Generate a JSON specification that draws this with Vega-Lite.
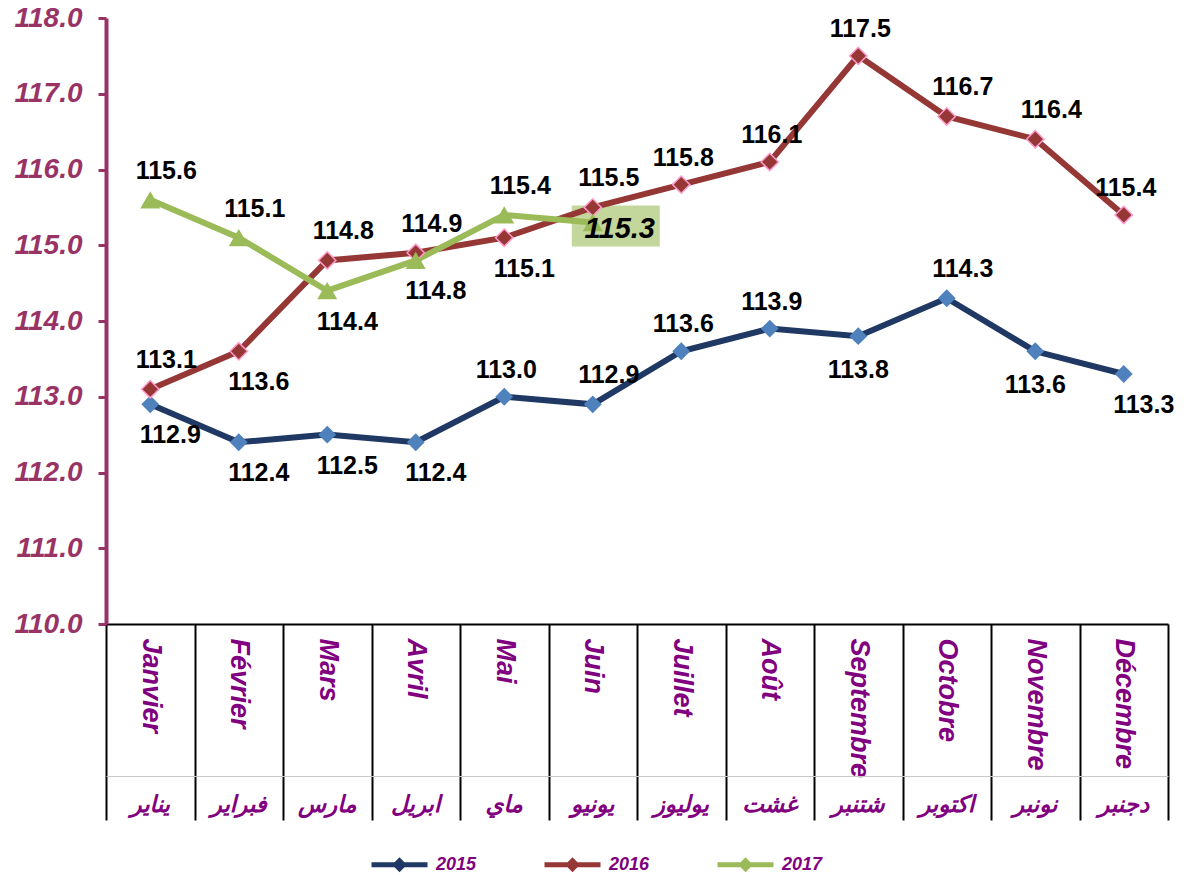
{
  "$schema": "https://vega.github.io/schema/vega-lite/v6.json",
  "width": 1062,
  "height": 606,
  "autosize": {"type": "none"},
  "padding": {"left": 106, "top": 18, "right": 21, "bottom": 251},
  "background": "white",
  "config": {"view": {"stroke": null}, "font": "Liberation Sans"},
  "datasets": {
    "pts": [
      {"month": "Janvier", "series": "2015", "value": 112.9, "pos": "br"},
      {"month": "Février", "series": "2015", "value": 112.4, "pos": "br"},
      {"month": "Mars", "series": "2015", "value": 112.5, "pos": "br"},
      {"month": "Avril", "series": "2015", "value": 112.4, "pos": "br"},
      {"month": "Mai", "series": "2015", "value": 113.0, "pos": "a"},
      {"month": "Juin", "series": "2015", "value": 112.9, "pos": "ar"},
      {"month": "Juillet", "series": "2015", "value": 113.6, "pos": "a"},
      {"month": "Août", "series": "2015", "value": 113.9, "pos": "a"},
      {"month": "Septembre", "series": "2015", "value": 113.8, "pos": "b"},
      {"month": "Octobre", "series": "2015", "value": 114.3, "pos": "ar"},
      {"month": "Novembre", "series": "2015", "value": 113.6, "pos": "b"},
      {"month": "Décembre", "series": "2015", "value": 113.3, "pos": "br"},
      {"month": "Janvier", "series": "2016", "value": 113.1, "pos": "ar"},
      {"month": "Février", "series": "2016", "value": 113.6, "pos": "br"},
      {"month": "Mars", "series": "2016", "value": 114.8, "pos": "ar"},
      {"month": "Avril", "series": "2016", "value": 114.9, "pos": "ar"},
      {"month": "Mai", "series": "2016", "value": 115.1, "pos": "br"},
      {"month": "Juin", "series": "2016", "value": 115.5, "pos": "ar"},
      {"month": "Juillet", "series": "2016", "value": 115.8, "pos": "a"},
      {"month": "Août", "series": "2016", "value": 116.1, "pos": "a"},
      {"month": "Septembre", "series": "2016", "value": 117.5, "pos": "a"},
      {"month": "Octobre", "series": "2016", "value": 116.7, "pos": "ar"},
      {"month": "Novembre", "series": "2016", "value": 116.4, "pos": "ar"},
      {"month": "Décembre", "series": "2016", "value": 115.4, "pos": "a"},
      {"month": "Janvier", "series": "2017", "value": 115.6, "pos": "ar"},
      {"month": "Février", "series": "2017", "value": 115.1, "pos": "ar"},
      {"month": "Mars", "series": "2017", "value": 114.4, "pos": "br"},
      {"month": "Avril", "series": "2017", "value": 114.8, "pos": "br"},
      {"month": "Mai", "series": "2017", "value": 115.4, "pos": "ar"},
      {"month": "Juin", "series": "2017", "value": 115.3, "pos": "hl"}
    ],
    "months": [
      {"month": "Janvier", "ar": "يناير"},
      {"month": "Février", "ar": "فبراير"},
      {"month": "Mars", "ar": "مارس"},
      {"month": "Avril", "ar": "ابريل"},
      {"month": "Mai", "ar": "ماي"},
      {"month": "Juin", "ar": "يونيو"},
      {"month": "Juillet", "ar": "يوليوز"},
      {"month": "Août", "ar": "غشت"},
      {"month": "Septembre", "ar": "شتنبر"},
      {"month": "Octobre", "ar": "اكتوبر"},
      {"month": "Novembre", "ar": "نونبر"},
      {"month": "Décembre", "ar": "دجنبر"}
    ]
  },
  "layer": [
    {
      "data": {"name": "pts"},
      "encoding": {
        "x": {
          "field": "month",
          "type": "nominal",
          "sort": ["Janvier", "Février", "Mars", "Avril", "Mai", "Juin", "Juillet", "Août", "Septembre", "Octobre", "Novembre", "Décembre"],
          "scale": {"type": "band", "paddingInner": 0, "paddingOuter": 0},
          "axis": {
            "title": null,
            "labelAngle": 90,
            "labelAlign": "left",
            "labelBaseline": "middle",
            "labelFont": "Liberation Sans",
            "labelFontSize": 27,
            "labelFontWeight": "bold",
            "labelFontStyle": "italic",
            "labelColor": "#800080",
            "labelPadding": -182,
            "labelOverlap": false,
            "labelLimit": 0,
            "tickSize": 196,
            "tickBand": "extent",
            "tickColor": "black",
            "tickWidth": 2,
            "domainColor": "black",
            "domainWidth": 2
          }
        },
        "y": {
          "field": "value",
          "type": "quantitative",
          "scale": {"domain": [110, 118], "zero": false, "nice": false},
          "axis": {
            "title": null,
            "values": [110, 111, 112, 113, 114, 115, 116, 117, 118],
            "format": ".1f",
            "grid": false,
            "labelFont": "Liberation Sans",
            "labelFontSize": 28,
            "labelFontWeight": "bold",
            "labelFontStyle": "italic",
            "labelColor": "#993366",
            "labelPadding": 16,
            "tickSize": 8,
            "tickWidth": 3,
            "tickColor": "#993366",
            "domainColor": "#993366",
            "domainWidth": 4
          }
        }
      },
      "layer": [
        {
          "transform": [{"filter": "datum.pos === 'hl'"}],
          "mark": {"type": "point", "shape": "M-1.05,-0.85H3.35V1.2H-1.05Z", "size": 1600, "filled": true, "color": "#C3D69B", "opacity": 1, "strokeWidth": 0}
        },
        {
          "mark": {"type": "line", "strokeWidth": 6},
          "encoding": {
            "color": {
              "field": "series",
              "type": "nominal",
              "scale": {"domain": ["2015", "2016", "2017"], "range": ["#1F3864", "#953735", "#9BBB59"]},
              "legend": {
                "title": null,
                "orient": "none",
                "direction": "horizontal",
                "legendX": 263,
                "legendY": 816,
                "symbolType": "M-1,0H1M-0.14,0L0,-0.14L0.14,0L0,0.14Z",
                "symbolSize": 3136,
                "symbolStrokeWidth": 5,
                "labelFont": "Liberation Sans",
                "labelFontSize": 18,
                "labelFontWeight": "bold",
                "labelFontStyle": "italic",
                "labelColor": "#800080",
                "labelOffset": 6,
                "columnPadding": 57
              }
            }
          }
        },
        {
          "transform": [{"filter": "datum.series === '2015'"}],
          "mark": {"type": "point", "shape": "diamond", "size": 320, "filled": true, "opacity": 1, "color": "#4F81BD"}
        },
        {
          "transform": [{"filter": "datum.series === '2016'"}],
          "mark": {"type": "point", "shape": "diamond", "size": 300, "filled": true, "opacity": 1, "fill": "#953735", "stroke": "#FF99CC", "strokeWidth": 1.5}
        },
        {
          "transform": [{"filter": "datum.series === '2017'"}],
          "mark": {"type": "point", "shape": "triangle-up", "size": 400, "filled": true, "opacity": 1, "color": "#9BBB59"}
        },
        {
          "transform": [{"filter": "datum.pos === 'a'"}],
          "mark": {"type": "text", "fontSize": 25, "fontWeight": "bold", "color": "black", "baseline": "middle", "dx": 2, "dy": -27},
          "encoding": {"text": {"field": "value", "type": "quantitative", "format": ".1f"}}
        },
        {
          "transform": [{"filter": "datum.pos === 'ar'"}],
          "mark": {"type": "text", "fontSize": 25, "fontWeight": "bold", "color": "black", "baseline": "middle", "dx": 16, "dy": -29},
          "encoding": {"text": {"field": "value", "type": "quantitative", "format": ".1f"}}
        },
        {
          "transform": [{"filter": "datum.pos === 'b'"}],
          "mark": {"type": "text", "fontSize": 25, "fontWeight": "bold", "color": "black", "baseline": "middle", "dx": 0, "dy": 34},
          "encoding": {"text": {"field": "value", "type": "quantitative", "format": ".1f"}}
        },
        {
          "transform": [{"filter": "datum.pos === 'br'"}],
          "mark": {"type": "text", "fontSize": 25, "fontWeight": "bold", "color": "black", "baseline": "middle", "dx": 20, "dy": 31},
          "encoding": {"text": {"field": "value", "type": "quantitative", "format": ".1f"}}
        },
        {
          "transform": [{"filter": "datum.pos === 'hl'"}],
          "mark": {"type": "text", "fontSize": 29, "fontWeight": "bold", "fontStyle": "italic", "color": "black", "baseline": "middle", "dx": 27, "dy": 6},
          "encoding": {"text": {"field": "value", "type": "quantitative", "format": ".1f"}}
        }
      ]
    },
    {
      "data": {"name": "months"},
      "mark": {"type": "tick", "opacity": 0},
      "encoding": {
        "x": {
          "field": "ar",
          "type": "nominal",
          "sort": null,
          "scale": {"type": "band", "paddingInner": 0, "paddingOuter": 0},
          "axis": {
            "title": null,
            "orient": "bottom",
            "offset": 152,
            "ticks": false,
            "domainColor": "#C8C8C8",
            "domainWidth": 1,
            "labelAngle": 0,
            "labelAlign": "center",
            "labelBaseline": "middle",
            "labelPadding": 28,
            "labelFont": "DejaVu Sans",
            "labelFontSize": 23,
            "labelFontWeight": "bold",
            "labelFontStyle": "italic",
            "labelColor": "#800080",
            "labelOverlap": false
          }
        }
      }
    }
  ],
  "resolve": {"scale": {"x": "independent"}, "axis": {"x": "independent"}}
}
